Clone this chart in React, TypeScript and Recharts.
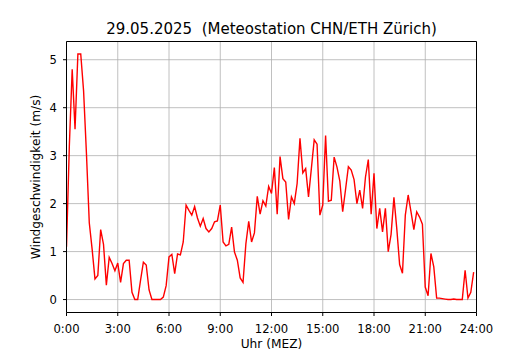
import { LineChart, Line, XAxis, YAxis, CartesianGrid, Label, ReferenceLine } from "recharts";

const TITLE = "29.05.2025  (Meteostation CHN/ETH Zürich)";
const X_LABEL = "Uhr (MEZ)";
const Y_LABEL = "Windgeschwindigkeit (m/s)";

// 10-Minuten-Werte in m/s, je 6 Stunden
const WIND_00_06 = [
  1.1, 3.2, 4.8, 3.55, 5.12, 5.12, 4.35, 3.05, 1.6, 1.05, 0.43, 0.5,
  1.46, 1.15, 0.3, 0.88, 0.75, 0.6, 0.76, 0.36, 0.75, 0.82, 0.82, 0.15,
  0, 0, 0.4, 0.78, 0.72, 0.2, 0, 0, 0, 0, 0.05, 0.29,
];
const WIND_06_12 = [
  0.89, 0.94, 0.54, 0.95, 0.93, 1.2, 1.97, 1.86, 1.76, 1.94, 1.7, 1.53,
  1.69, 1.48, 1.41, 1.48, 1.62, 1.64, 1.97, 1.2, 1.12, 1.15, 1.51, 0.99,
  0.82, 0.45, 0.36, 1.16, 1.63, 1.2, 1.39, 2.15, 1.78, 2.06, 1.95, 2.36,
];
const WIND_12_18 = [
  2.21, 2.75, 1.78, 2.98, 2.52, 2.45, 1.67, 2.14, 2.0, 2.42, 3.36, 2.64,
  2.73, 2.14, 2.73, 3.33, 3.24, 1.76, 1.97, 3.42, 2.05, 2.07, 2.97, 2.76,
  2.47, 1.83, 2.29, 2.77, 2.7, 2.5, 2.0, 2.28, 1.9, 2.55, 2.92, 1.78,
];
const WIND_18_24 = [
  2.63, 1.48, 1.9, 1.41, 1.9, 1.0, 1.36, 2.13, 1.48, 0.73, 0.55, 1.76,
  2.18, 1.83, 1.46, 1.83, 1.72, 1.57, 0.26, 0.08, 0.96, 0.68, 0.03, 0.03,
  0.02, 0.01, 0, 0, 0.01, 0, 0, 0, 0.61, 0.03, 0.15, 0.57,
];

const HOUR_TICKS = [0, 3, 6, 9, 12, 15, 18, 21, 24];
const SPEED_TICKS = [0, 1, 2, 3, 4, 5];
const HOUR_DOMAIN = [0, 24];
const SPEED_DOMAIN = [-0.27, 5.38];

const FONT = "'DejaVu Sans', sans-serif";

const data = [...WIND_00_06, ...WIND_06_12, ...WIND_12_18, ...WIND_18_24].map((speed, i) => ({
  hour: i / 6, // alle 10 Minuten
  speed,
}));

// Titel oben und Achsentitel unten, beide mittig über der Plotfläche
const XLabel = ({ viewBox }: any) => {
  const cx = viewBox.x + viewBox.width / 2;
  return (
    <g>
      <text x={cx} y={34} textAnchor="middle" fontSize={15} fill="#000" style={{ whiteSpace: "pre" }}>
        {TITLE}
      </text>
      <text x={cx} y={347.5} textAnchor="middle" fontSize={12.2} fill="#000">
        {X_LABEL}
      </text>
    </g>
  );
};

const YLabel = ({ viewBox }: any) => {
  const cx = 39.5;
  const cy = viewBox.y + viewBox.height / 2;
  return (
    <text x={cx} y={cy} transform={`rotate(-90 ${cx} ${cy})`} textAnchor="middle" fontSize={12.2} fill="#000">
      {Y_LABEL}
    </text>
  );
};

export default function App() {
  const axisLine = { stroke: "#000", strokeWidth: 1 };
  const tickStyle = { fill: "#000", fontSize: 11.6 };

  return (
    <div style={{ position: "absolute", left: 0, top: 0, fontFamily: FONT }}>
      <LineChart
        width={530}
        height={350}
        data={data}
        margin={{ top: 41.5, right: 53.5, bottom: 0, left: 0 }}
        style={{ background: "#fff", fontFamily: FONT }}
      >
        <CartesianGrid stroke="#b0b0b0" strokeWidth={0.8} />
        <XAxis
          dataKey="hour"
          type="number"
          domain={HOUR_DOMAIN}
          ticks={HOUR_TICKS}
          interval={0}
          tickFormatter={(h) => `${h}:00`}
          height={37.5}
          tickSize={3.5}
          tickMargin={8.5}
          tick={tickStyle}
          axisLine={axisLine}
          tickLine={axisLine}
          allowDataOverflow
        >
          <Label content={XLabel} />
        </XAxis>
        <YAxis
          type="number"
          domain={SPEED_DOMAIN}
          ticks={SPEED_TICKS}
          interval={0}
          width={66.5}
          tickSize={3.5}
          tickMargin={6}
          tick={tickStyle}
          axisLine={axisLine}
          tickLine={axisLine}
          allowDataOverflow
        >
          <Label content={YLabel} />
        </YAxis>
        {/* Rahmen oben und rechts */}
        <ReferenceLine y={SPEED_DOMAIN[1]} stroke="#000" strokeWidth={1} ifOverflow="visible" />
        <ReferenceLine x={HOUR_DOMAIN[1]} stroke="#000" strokeWidth={1} ifOverflow="visible" />
        <Line
          type="linear"
          dataKey="speed"
          stroke="#ff0000"
          strokeWidth={1.4}
          dot={false}
          activeDot={false}
          isAnimationActive={false}
        />
      </LineChart>
    </div>
  );
}
